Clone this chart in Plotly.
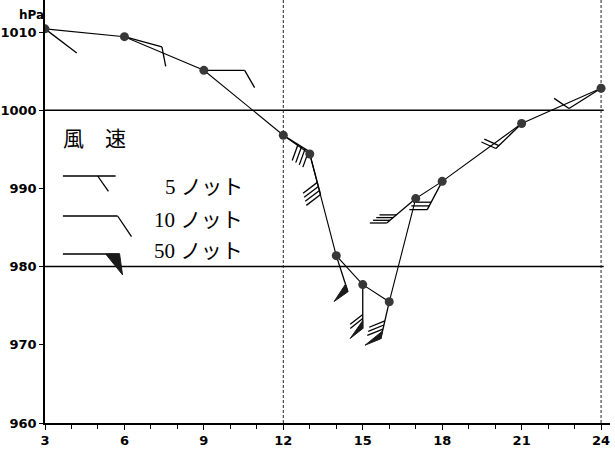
import math
import plotly.graph_objects as go

# ---------------- data ----------------
hours = [3, 6, 9, 12, 13, 14, 15, 16, 17, 18, 21, 24]
pressure_hpa = [1010.4, 1009.4, 1005.1, 996.8, 994.4, 981.4, 977.7, 975.5, 988.7, 990.9, 998.3, 1002.8]
wind_knots = [0, 10, 10, 40, 40, 50, 70, 80, 40, 30, 20, 10]
# direction of the wind staff on the page (degrees, clockwise from east)
staff_dir_deg = [37, 15, 0, 32, 75, 72, 90, 103, 140, 118, 136, 148]

x_ticks = [3, 6, 9, 12, 15, 18, 21, 24]
y_ticks = [960, 970, 980, 990, 1000, 1010]
y_tick_text = ["960", "970", "980", "990", "1000", "1010"]
ref_lines_hpa = [1000, 980]
dashed_hours = [12, 24]

legend_title = "風　速"
legend_knots = [5, 10, 50]
legend_labels = ["5 ノット", "10 ノット", "50 ノット"]

# ---------------- style / layout ----------------
W, H = 615, 454
L_M, R_M, T_M, B_M = 42, 5, 0, 31
PX_H = 26.62          # pixels per hour
PX_P = 7.82           # pixels per hPa
X_MIN, Y_MIN = 3, 960
plot_w = W - L_M - R_M
plot_h = H - T_M - B_M
X_MAX = X_MIN + plot_w / PX_H
Y_MAX = Y_MIN + plot_h / PX_P

barb_rel_deg = [60, 64, 60, 78, 68, 73, 52, 55, 40, 62, 68, 66]
staff_len_px = [40, 39, 41, 30, 42, 38, 44, 38, 38, 32, 36, 38]
barb_len_px = [18, 20, 20, 17, 18, 17, 16, 17, 17, 18, 16, 18]


def to_px(h, p):
    return L_M + (h - X_MIN) * PX_H, T_M + plot_h - (p - Y_MIN) * PX_P


def from_px(x, y):
    return X_MIN + (x - L_M) / PX_H, Y_MIN + (T_M + plot_h - y) / PX_P


def barb(ox, oy, ang_deg, length, knots, rel_deg, blen,
         spacing=4.2, pen_w=8, half_off=None, pen_rel=None):
    a = math.radians(ang_deg)
    ux, uy = math.cos(a), math.sin(a)
    lines = [[(ox, oy), (ox + length * ux, oy + length * uy)]]
    tris = []
    b = math.radians(ang_deg + rel_deg)
    bx, by = math.cos(b), math.sin(b)
    pb = math.radians(ang_deg + (pen_rel if pen_rel is not None else rel_deg))
    pbx, pby = math.cos(pb), math.sin(pb)

    def at(d):
        return ox + d * ux, oy + d * uy

    n50 = knots // 50
    rem = knots - 50 * n50
    n10 = rem // 10
    n5 = (rem % 10) // 5
    d = length
    for _ in range(n50):
        p1 = at(d)
        p2 = at(d - pen_w)
        tip = (p1[0] + blen * pbx, p1[1] + blen * pby)
        tris.append([p1, p2, tip])
        d -= pen_w + 2
    for _ in range(n10):
        p1 = at(d)
        lines.append([p1, (p1[0] + blen * bx, p1[1] + blen * by)])
        d -= spacing
    for _ in range(n5):
        if n50 == 0 and n10 == 0:
            d = length - (half_off if half_off is not None else spacing)
        p1 = at(d)
        hl = blen * 0.75
        lines.append([p1, (p1[0] + hl * bx, p1[1] + hl * by)])
    return lines, tris


all_lines, all_tris = [], []
for h, p, kt, ang, rel, sl, bl in zip(hours, pressure_hpa, wind_knots, staff_dir_deg,
                                      barb_rel_deg, staff_len_px, barb_len_px):
    px, py = to_px(h, p)
    ln, tr = barb(px, py, ang, sl, kt, rel, bl)
    all_lines += ln
    all_tris += tr

# legend glyphs (page positions)
legend_x0 = 60
legend_rows_y = [176, 216, 254]
legend_staff = [53, 55, 57]
legend_rel = [55, 56, 82]
legend_blen = [25, 25, 21]
legend_pen_w = [14, 14, 14]
for kt, ly, sl, rel, bl, pw in zip(legend_knots, legend_rows_y, legend_staff,
                                   legend_rel, legend_blen, legend_pen_w):
    ln, tr = barb(legend_x0, ly, 0, sl, kt, rel, bl, pen_w=pw, half_off=18)
    all_lines += ln
    all_tris += tr


def poly_xy(polys, close=False):
    xs, ys = [], []
    for poly in polys:
        pts = list(poly) + ([poly[0]] if close else [])
        for (x, y) in pts:
            hx, py_ = from_px(x, y)
            xs.append(hx)
            ys.append(py_)
        xs.append(None)
        ys.append(None)
    return xs, ys


fig = go.Figure()

# pressure trace
fig.add_trace(go.Scatter(x=hours, y=pressure_hpa, mode="lines",
                         line=dict(color="black", width=1.1),
                         hoverinfo="skip", showlegend=False))
# wind staffs and barbs
lx, ly = poly_xy(all_lines)
fig.add_trace(go.Scatter(x=lx, y=ly, mode="lines",
                         line=dict(color="black", width=1.3),
                         hoverinfo="skip", showlegend=False, cliponaxis=False))
# pennants
tx, ty = poly_xy(all_tris, close=True)
fig.add_trace(go.Scatter(x=tx, y=ty, mode="lines", fill="toself",
                         fillcolor="#1a1a1a", line=dict(color="#1a1a1a", width=1),
                         hoverinfo="skip", showlegend=False, cliponaxis=False))
# observation points
fig.add_trace(go.Scatter(x=hours, y=pressure_hpa, mode="markers",
                         marker=dict(size=9, color="#383838"),
                         showlegend=False))

shapes = []
for p in ref_lines_hpa:
    shapes.append(dict(type="line", xref="x", yref="y", x0=X_MIN, x1=24.1, y0=p, y1=p,
                       line=dict(color="black", width=1.5), layer="below"))
for hd in dashed_hours:
    shapes.append(dict(type="line", xref="x", yref="y", x0=hd, x1=hd, y0=Y_MIN, y1=Y_MAX,
                       line=dict(color="#222", width=1, dash="3px,2px"), layer="below"))

annotations = []
# unit label, placed on the page (pixels converted to paper fractions)
annotations.append(dict(xref="paper", yref="paper",
                        x=(14 - L_M) / plot_w, y=1 - (15 - T_M) / plot_h,
                        xanchor="left", yanchor="middle",
                        text="<b>hPa</b>", showarrow=False,
                        font=dict(family="DejaVu Sans", size=12, color="black")))
tx0, ty0 = from_px(58, 137)
annotations.append(dict(x=tx0, y=ty0, xref="x", yref="y", text=legend_title,
                        showarrow=False, xanchor="left",
                        font=dict(family="Noto Sans CJK JP", size=21, color="black")))
legend_text_y = [187, 220, 251]
for lab, yy in zip(legend_labels, legend_text_y):
    ax, ay = from_px(243, yy)
    annotations.append(dict(x=ax, y=ay, xref="x", yref="y", text=lab, showarrow=False,
                            xanchor="right",
                            font=dict(family="Liberation Serif, Noto Sans CJK JP",
                                      size=21, color="black")))

tick_font = dict(family="DejaVu Sans", size=13, color="black", weight="bold")
fig.update_layout(
    width=W, height=H,
    margin=dict(l=L_M, r=R_M, t=T_M, b=B_M),
    paper_bgcolor="white", plot_bgcolor="white",
    shapes=shapes, annotations=annotations,
    xaxis=dict(range=[X_MIN, X_MAX], tickvals=x_ticks, ticks="outside", ticklen=5,
               tickcolor="black", showgrid=False, zeroline=False,
               showline=True, linecolor="black", linewidth=1.5,
               minor=dict(dtick=1, tick0=3, ticks="outside", ticklen=4, tickcolor="black",
                          showgrid=False),
               tickfont=tick_font),
    yaxis=dict(range=[Y_MIN, Y_MAX], tickvals=y_ticks, ticktext=y_tick_text,
               ticks="outside", ticklen=4, tickcolor="black", showgrid=False,
               zeroline=False, showline=True, linecolor="black", linewidth=1.5,
               tickfont=tick_font),
)

fig.write_html("out.html", config={"displayModeBar": False},
               post_script="document.body.style.margin='0';document.body.style.overflow='hidden';")
